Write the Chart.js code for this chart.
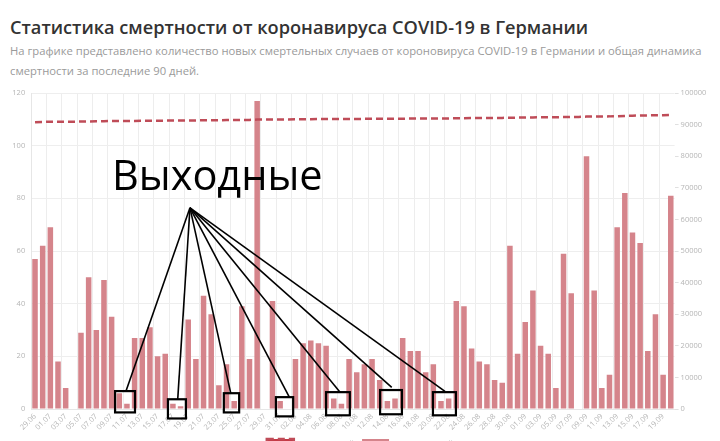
<!DOCTYPE html>
<html lang="ru">
<head>
<meta charset="utf-8">
<title>Статистика смертности от коронавируса COVID-19 в Германии</title>
<script src="https://cdn.jsdelivr.net/npm/chart.js@4.4.1/dist/chart.umd.min.js"></script>
<style>
  html, body { margin: 0; padding: 0; background: #fff; overflow: hidden; width: 720px; height: 441px; }
  #title { position: absolute; left: 10px; top: 15px; font: 600 18.2px/24px "Open Sans"; color: #333; white-space: nowrap; }
  #subtitle { position: absolute; left: 10px; top: 41px; font: 11.25px/20px "Open Sans"; color: #9a9a9a; white-space: nowrap; }
  #wrap { position: absolute; left: 0; top: 82px; width: 720px; height: 376px; }
  #note { position: absolute; left: 112px; top: 154px; font: 41.5px/41.5px "Open Sans"; color: #000; white-space: nowrap; pointer-events: none; }
</style>
</head>
<body>
<div id="title">Статистика смертности от коронавируса COVID-19 в Германии</div>
<div id="subtitle">На графике представлено количество новых смертельных случаев от короновируса COVID-19 в Германии и общая динамика<br>смертности за последние 90 дней.</div>
<div id="wrap"><canvas id="chart"></canvas></div>
<div id="note">Выходные</div>
<script>
const categories = [
  '29.06', '30.06',
  '01.07', '02.07', '03.07', '04.07', '05.07', '06.07', '07.07', '08.07', '09.07', '10.07',
  '11.07', '12.07', '13.07', '14.07', '15.07', '16.07', '17.07', '18.07', '19.07', '20.07',
  '21.07', '22.07', '23.07', '24.07', '25.07', '26.07', '27.07', '28.07', '29.07', '30.07', '31.07',
  '01.08', '02.08', '03.08', '04.08', '05.08', '06.08', '07.08', '08.08', '09.08', '10.08',
  '11.08', '12.08', '13.08', '14.08', '15.08', '16.08', '17.08', '18.08', '19.08', '20.08',
  '21.08', '22.08', '23.08', '24.08', '25.08', '26.08', '27.08', '28.08', '29.08', '30.08', '31.08',
  '01.09', '02.09', '03.09', '04.09', '05.09', '06.09', '07.09', '08.09', '09.09', '10.09',
  '11.09', '12.09', '13.09', '14.09', '15.09', '16.09', '17.09', '18.09', '19.09', '20.09'
];

// новых смертей (левая ось)
const newDeaths = [
  57, 62,
  69, 18, 8, 0, 29, 50, 30, 49, 35, 6,
  2, 27, 27, 31, 20, 21, 2, 1, 34, 19,
  43, 36, 9, 17, 3, 39, 19, 117, 0, 41, 3,
  0, 19, 25, 26, 25, 24, 4, 2, 19, 14,
  17, 19, 11, 3, 4, 27, 22, 22, 14, 17,
  3, 4, 41, 39, 23, 18, 17, 11, 10, 62, 21,
  33, 45, 24, 21, 8, 59, 44, 0, 96, 45,
  8, 13, 69, 82, 67, 63, 22, 36, 13, 81
];

// всего смертей (правая ось)
const totalDeaths = [
  90777, 90839,
  90908, 90926, 90934, 90934, 90963, 91013, 91043, 91092, 91127, 91133,
  91135, 91162, 91189, 91220, 91240, 91261, 91263, 91264, 91298, 91317,
  91360, 91396, 91405, 91422, 91425, 91464, 91483, 91600, 91600, 91641, 91644,
  91644, 91663, 91688, 91714, 91739, 91763, 91767, 91769, 91788, 91802,
  91819, 91838, 91849, 91852, 91856, 91883, 91905, 91927, 91941, 91958,
  91961, 91965, 92006, 92045, 92068, 92086, 92103, 92114, 92124, 92186, 92207,
  92240, 92285, 92309, 92330, 92338, 92397, 92441, 92441, 92537, 92582,
  92590, 92603, 92672, 92754, 92821, 92884, 92906, 92942, 92955, 93036
];

// рамки "выходные": x в индексах категорий, y в единицах левой оси
const noteApex = [20.23, 76.4];
const weekendBoxes = [
  { x0: 10.45, x1: 13.05, top: 6.8, bottom: -1.3, tipX: 11.88, tipY: 6.8 },
  { x0: 17.35, x1: 19.70, top: 3.7, bottom: -3.6, tipX: 18.63, tipY: 3.7 },
  { x0: 24.65, x1: 26.65, top: 6.0, bottom: -1.3, tipX: 25.55, tipY: 6.0 },
  { x0: 31.45, x1: 33.70, top: 4.5, bottom: -2.8, tipX: 33.20, tipY: 4.5 },
  { x0: 38.00, x1: 41.10, top: 6.4, bottom: -2.4, tipX: 39.82, tipY: 6.4 },
  { x0: 45.05, x1: 47.90, top: 7.2, bottom: -2.0, tipX: 46.57, tipY: 8.2 },
  { x0: 51.95, x1: 54.95, top: 6.4, bottom: -2.4, tipX: 53.52, tipY: 6.7 }
];

const weekendMarks = {
  id: 'weekendMarks',
  afterDraw(chart) {
    const x = chart.scales.x, y = chart.scales.y, ctx = chart.ctx;
    const ax = x.getPixelForValue(noteApex[0]), ay = y.getPixelForValue(noteApex[1]);
    ctx.save();
    ctx.strokeStyle = '#000';
    ctx.lineWidth = 1.6;
    weekendBoxes.forEach(b => {
      ctx.beginPath();
      ctx.moveTo(ax, ay);
      ctx.lineTo(x.getPixelForValue(b.tipX), y.getPixelForValue(b.tipY));
      ctx.stroke();
    });
    ctx.lineWidth = 2.2;
    weekendBoxes.forEach(b => {
      const l = x.getPixelForValue(b.x0), r = x.getPixelForValue(b.x1);
      const t = y.getPixelForValue(b.top), bt = y.getPixelForValue(b.bottom);
      ctx.strokeRect(l, t, r - l, bt - t);
    });
    ctx.restore();
  }
};

const tickFont = { family: 'Open Sans', size: 7.5 };

new Chart(document.getElementById('chart'), {
  type: 'bar',
  data: {
    labels: categories,
    datasets: [
      {
        type: 'line',
        label: 'Всего смертей',
        data: totalDeaths,
        yAxisID: 'y1',
        borderColor: '#bf4c58',
        backgroundColor: '#c53a46',
        borderWidth: 2.5,
        borderDash: [7, 4],
        pointRadius: 0,
        tension: 0,
        fill: false
      },
      {
        label: 'Новых смертей',
        data: newDeaths,
        yAxisID: 'y',
        backgroundColor: '#d5848b',
        borderWidth: 0
      }
    ]
  },
  options: {
    responsive: true,
    maintainAspectRatio: false,
    animation: false,
    layout: { padding: { top: 11, left: 0, right: 0, bottom: 0 } },
    plugins: {
      legend: {
        position: 'bottom',
        labels: { boxWidth: 27, boxHeight: 9, padding: 8, color: '#999', font: { family: 'Open Sans', size: 8 } }
      },
      title: { display: false },
      tooltip: { enabled: false }
    },
    scales: {
      x: {
        afterFit: s => { s.height = 22; },
        grid: {
          color: c => (c.index % 2 === 0 ? '#ededed' : 'rgba(0,0,0,0)'),
          drawTicks: false
        },
        border: { color: '#e6e6e6' },
        ticks: {
          autoSkip: false,
          maxRotation: 45,
          minRotation: 45,
          padding: 3,
          color: '#b5b5b5',
          font: tickFont,
          callback: function (v, i) { return i % 2 === 0 ? this.getLabelForValue(v) : ''; }
        }
      },
      y: {
        position: 'left',
        min: 0,
        max: 120,
        afterFit: s => { s.width = 31.2; },
        grid: { color: '#eeeeee', drawTicks: false },
        border: { color: '#e6e6e6' },
        ticks: { stepSize: 20, padding: 6, color: '#b5b5b5', font: tickFont }
      },
      y1: {
        position: 'right',
        min: 0,
        max: 100000,
        afterFit: s => { s.width = 45.4; },
        grid: { drawOnChartArea: false, tickLength: 4, color: '#e0e0e0' },
        border: { display: false },
        ticks: { stepSize: 10000, padding: 2, color: '#b5b5b5', font: tickFont, callback: v => String(v) }
      }
    }
  },
  plugins: [weekendMarks]
});
</script>
</body>
</html>
